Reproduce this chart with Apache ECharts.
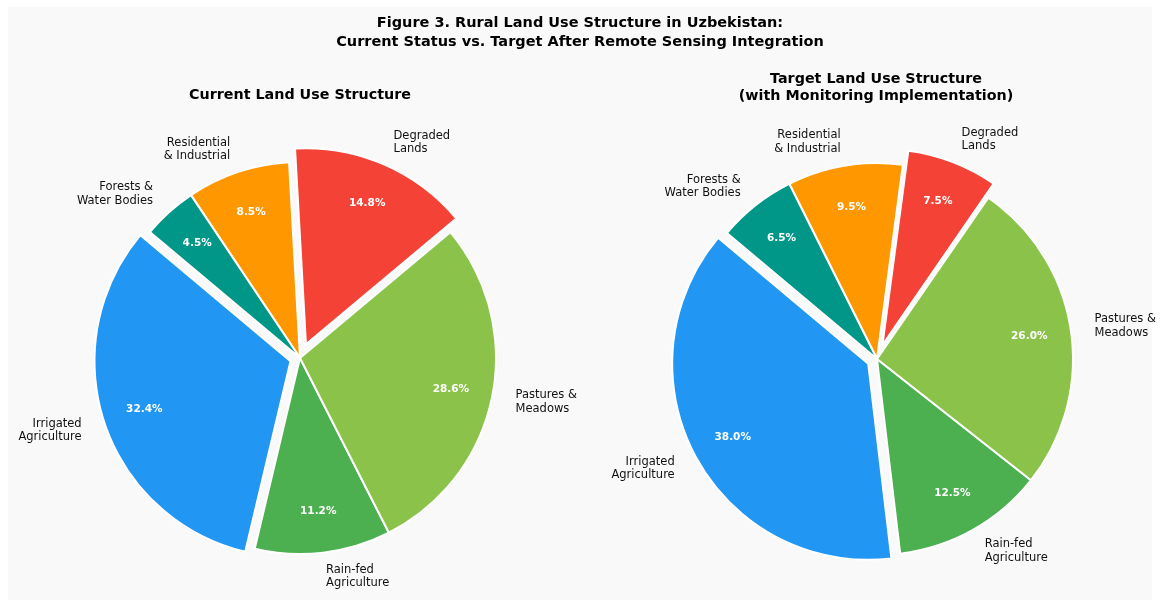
<!DOCTYPE html>
<html>
<head>
<meta charset="utf-8">
<script src="https://cdn.jsdelivr.net/npm/echarts@6/dist/echarts.min.js"></script>
<style>
  html, body { margin: 0; padding: 0; background: #fff; }
  #landUse { width: 1160px; height: 607px; }
</style>
</head>
<body>
<div id="landUse"></div>
<script>
// categories in drawing order (counter-clockwise from 140 deg)
const categories = ['Irrigated\nAgriculture', 'Rain-fed\nAgriculture', 'Pastures &\nMeadows', 'Degraded\nLands', 'Residential\n& Industrial', 'Forests &\nWater Bodies']
// share of rural land, %
const currentShare = [32.4, 11.2, 28.6, 14.8, 8.5, 4.5]
const targetShare = [38.0, 12.5, 26.0, 7.5, 9.5, 6.5]

const sliceColors = ['#2196F3', '#4CAF50', '#8BC34A', '#F44336', '#FF9800', '#009688']
// how far each slice is pulled out, px
const explodeOffsets = [10, 0, 0, 15, 0, 0]
const font = 'DejaVu Sans'
const R = 196

// one series per explode distance, sectors + names or percentage labels
function pieSeries (values, center, offset, layer) {
  return {
    type: 'pie',
    left: 0,
    top: 0,
    width: 1400,
    height: 607,
    center: center,
    radius: layer === 'pct' ? [106, R] : [0, R],
    startAngle: 140,
    clockwise: false,
    avoidLabelOverlap: false,
    selectedMode: 'multiple',
    selectedOffset: offset,
    silent: true,
    z: layer === 'pct' ? 3 : 2,
    labelLine: { show: false, length: 24, length2: 0 },
    data: values.map((v, i) => {
      const on = explodeOffsets[i] === offset
      const item = { name: categories[i], value: v, selected: on && offset > 0 }
      if (layer === 'pct') {
        item.itemStyle = { color: 'rgba(0,0,0,0)', borderWidth: 0 }
        item.label = {
          show: on,
          position: 'inside',
          formatter: v.toFixed(1) + '%',
          color: '#fff',
          fontWeight: 'bold',
          fontSize: 10.5,
          fontFamily: font
        }
      } else {
        item.itemStyle = on
          ? { color: sliceColors[i], borderColor: '#fff', borderWidth: 2 }
          : { color: 'rgba(0,0,0,0)', borderWidth: 0 }
        item.label = {
          show: on,
          position: 'outside',
          formatter: '{b}',
          distanceToLabelLine: 0,
          color: '#111',
          fontSize: 11.5,
          lineHeight: 13.5,
          fontFamily: font
        }
      }
      return item
    })
  }
}

function buildPie (values, center) {
  const offsets = [...new Set(explodeOffsets)]
  const list = []
  offsets.forEach(o => list.push(pieSeries(values, center, o, 'sector')))
  offsets.forEach(o => list.push(pieSeries(values, center, o, 'pct')))
  return list
}

const myChart = echarts.init(document.getElementById('landUse'))
const option = {
  backgroundColor: '#ffffff',
  animation: false,
  graphic: [
    { type: 'rect', z: -10, shape: { x: 8, y: 7, width: 1144, height: 593 }, style: { fill: '#f9f9f9' } },
    {
      type: 'text', x: 580, y: 32.5,
      style: { text: 'Figure 3. Rural Land Use Structure in Uzbekistan:\nCurrent Status vs. Target After Remote Sensing Integration', align: 'center', verticalAlign: 'middle', font: 'bold 14.5px "DejaVu Sans"', lineHeight: 19, fill: '#000' }
    },
    {
      type: 'text', x: 300, y: 95.5,
      style: { text: 'Current Land Use Structure', align: 'center', verticalAlign: 'middle', font: 'bold 14.3px "DejaVu Sans"', fill: '#000' }
    },
    {
      type: 'text', x: 876, y: 87.5,
      style: { text: 'Target Land Use Structure\n(with Monitoring Implementation)', align: 'center', verticalAlign: 'middle', font: 'bold 14.3px "DejaVu Sans"', lineHeight: 17, fill: '#000' }
    }
  ],
  series: [
    ...buildPie(currentShare, [300, 358]),
    ...buildPie(targetShare, [877, 359])
  ]
}
myChart.setOption(option)
</script>
</body>
</html>
